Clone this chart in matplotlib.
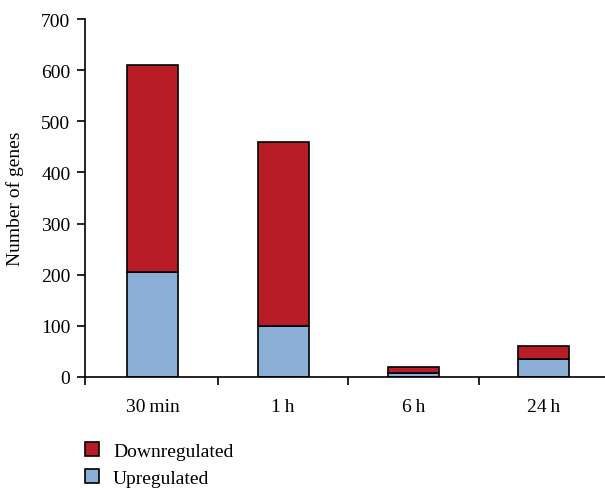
import matplotlib
matplotlib.use("Agg")
import matplotlib.pyplot as plt
import numpy as np

# data
categories = ["30\u2009min", "1\u2009h", "6\u2009h", "24\u2009h"]
upregulated = [206, 99, 8, 36]
downregulated = [405, 361, 12, 25]

up_color = "#8AAED6"
down_color = "#B71C27"

plt.rcParams["font.family"] = ["Liberation Serif", "DejaVu Serif"]
fs = 14

fig = plt.figure(figsize=(6.05, 4.89), dpi=100)
ax = fig.add_axes([0.1405, 0.227, 0.8595, 0.732])

x = np.arange(len(categories))
w = 0.39
ax.bar(x, upregulated, w, color=up_color, edgecolor="black", linewidth=1.2,
       label="Upregulated")
ax.bar(x, downregulated, w, bottom=upregulated, color=down_color,
       edgecolor="black", linewidth=1.2, label="Downregulated")

ax.set_xlim(-0.52, 3.47)
ax.set_ylim(0, 700)
ax.set_yticks(range(0, 701, 100))
ax.set_xticks(x)
ax.set_xticklabels(categories)
ax.set_xticks([-0.52, 0.5, 1.5, 2.5], minor=True)
ax.tick_params(axis="x", which="major", length=0, pad=15, labelsize=fs)
ax.tick_params(axis="x", which="minor", length=5.5, width=1.2, direction="out")
ax.tick_params(axis="y", length=5.5, width=1.2, direction="out", pad=5,
               labelsize=fs)
ax.set_ylabel("Number of genes", fontsize=fs)
ax.yaxis.set_label_coords(-0.117, 0.5)

for side in ["top", "right"]:
    ax.spines[side].set_visible(False)
for side in ["left", "bottom"]:
    ax.spines[side].set_linewidth(1.2)

handles, labels = ax.get_legend_handles_labels()
fig.legend(handles[::-1], labels[::-1], loc="upper left",
           bbox_to_anchor=(0.1405, 0.094), frameon=False, fontsize=fs,
           handlelength=0.72, handleheight=0.72, handletextpad=0.72,
           labelspacing=0.48, borderpad=0, borderaxespad=0)

plt.savefig("out.png", dpi=100)
